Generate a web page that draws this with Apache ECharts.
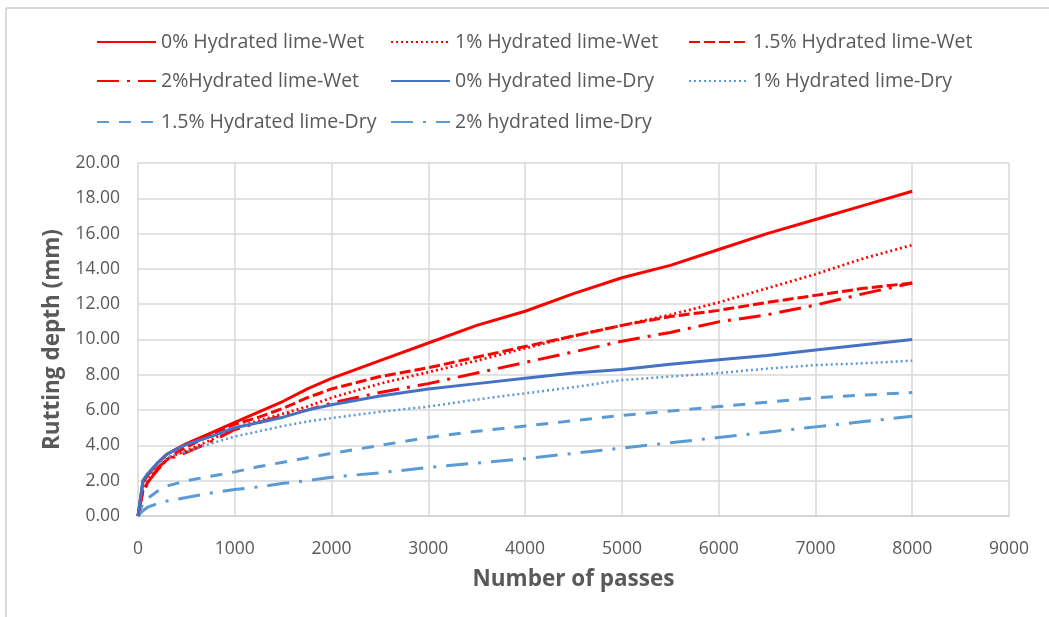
<!DOCTYPE html>
<html>
<head>
<meta charset="utf-8">
<script src="https://cdn.jsdelivr.net/npm/echarts@6/dist/echarts.min.js"></script>
<style>
html,body{margin:0;padding:0;background:#fff;}
#chart{width:1049px;height:617px;}
</style>
</head>
<body>
<div id="chart"></div>
<script>
// ---- data ----
const passes = [0, 50, 100, 200, 300, 400, 500, 750, 1000, 1250, 1500, 1750, 2000, 2500, 3000, 3500, 4000, 4500, 5000, 5500, 6000, 6500, 7000, 7500, 8000];

const seriesNames = [
  '0% Hydrated lime-Wet', '1% Hydrated lime-Wet', '1.5% Hydrated lime-Wet',
  '2%Hydrated lime-Wet', '0% Hydrated lime-Dry', '1% Hydrated lime-Dry',
  '1.5% Hydrated lime-Dry', '2% hydrated lime-Dry'
];

const wet0  = [0, 1.9, 2.3, 3.0, 3.5, 3.8, 4.1, 4.7, 5.3, 5.9, 6.5, 7.2, 7.8, 8.8, 9.8, 10.8, 11.6, 12.6, 13.5, 14.2, 15.1, 16.0, 16.8, 17.6, 18.4];
const wet1  = [0, 1.5, 2.0, 2.7, 3.2, 3.5, 3.7, 4.3, 5.0, 5.4, 5.8, 6.2, 6.7, 7.5, 8.15, 8.8, 9.5, 10.2, 10.8, 11.4, 12.1, 12.9, 13.7, 14.6, 15.35];
const wet15 = [0, 1.4, 1.9, 2.6, 3.2, 3.6, 3.9, 4.6, 5.2, 5.6, 6.1, 6.7, 7.2, 7.9, 8.4, 9.0, 9.6, 10.2, 10.8, 11.3, 11.65, 12.1, 12.5, 12.9, 13.2];
const wet2  = [0, 1.4, 1.8, 2.7, 3.2, 3.4, 3.6, 4.2, 4.9, 5.3, 5.7, 6.0, 6.4, 7.0, 7.5, 8.1, 8.7, 9.3, 9.9, 10.4, 11.0, 11.4, 11.95, 12.6, 13.2];
const dry0  = [0, 2.0, 2.4, 3.0, 3.5, 3.8, 4.05, 4.5, 5.0, 5.3, 5.6, 6.0, 6.3, 6.8, 7.2, 7.5, 7.8, 8.1, 8.3, 8.6, 8.85, 9.1, 9.4, 9.7, 10.0];
const dry1  = [0, 1.7, 2.2, 2.9, 3.3, 3.5, 3.65, 4.1, 4.5, 4.8, 5.1, 5.35, 5.55, 5.9, 6.2, 6.6, 6.95, 7.3, 7.7, 7.9, 8.1, 8.35, 8.55, 8.65, 8.8];
const dry15 = [0, 0.7, 1.0, 1.4, 1.7, 1.85, 2.0, 2.25, 2.5, 2.8, 3.05, 3.3, 3.55, 4.0, 4.45, 4.8, 5.1, 5.4, 5.7, 5.95, 6.2, 6.45, 6.7, 6.85, 7.0];
const dry2  = [0, 0.3, 0.5, 0.7, 0.85, 0.95, 1.05, 1.3, 1.5, 1.65, 1.85, 2.0, 2.2, 2.45, 2.75, 3.0, 3.25, 3.55, 3.85, 4.15, 4.45, 4.75, 5.05, 5.35, 5.65];

const xTicks = [0, 1000, 2000, 3000, 4000, 5000, 6000, 7000, 8000, 9000];
const yTicks = [0, 2, 4, 6, 8, 10, 12, 14, 16, 18, 20];

// ---- styles ----
const allValues = [wet0, wet1, wet15, wet2, dry0, dry1, dry15, dry2];
const styles = [
  {color: '#FF0000', type: 'solid', width: 3},
  {color: '#FF0000', type: [2, 3], width: 2.75},
  {color: '#FF0000', type: [11, 4], width: 3},
  {color: '#FF0000', type: [22, 8, 3, 8], width: 3},
  {color: '#4472C4', type: 'solid', width: 3},
  {color: '#5B9BD5', type: [2, 3], width: 2.5},
  {color: '#5B9BD5', type: [12, 10], width: 3},
  {color: '#5B9BD5', type: [22, 10, 3, 10], width: 3}
];
const legendPos = [
  [96, 30], [390, 30], [688, 30],
  [96, 69], [390, 69], [688, 69],
  [96, 110], [390, 110]
];

const FONT = '"Open Sans", "Noto Sans", sans-serif';
const TXT = '#595959';

const series = allValues.map((vals, i) => ({
  name: seriesNames[i],
  type: 'line',
  data: passes.map((p, j) => [p, vals[j]]),
  showSymbol: false,
  symbol: 'none',
  smooth: false,
  lineStyle: {color: styles[i].color, type: styles[i].type, width: styles[i].width},
  itemStyle: {color: styles[i].color},
  z: 10 - (i % 4)
}));

const legends = seriesNames.map((n, i) => ({
  data: [n],
  left: legendPos[i][0],
  top: legendPos[i][1],
  padding: 0,
  itemWidth: 59,
  itemHeight: 14,
  itemGap: 0,
  selectedMode: false,
  itemStyle: {opacity: 0},
  textStyle: {color: TXT, fontFamily: FONT, fontSize: 19.5, lineHeight: 24}
}));

const chart = echarts.init(document.getElementById('chart'), null, {renderer: 'canvas'});
chart.setOption({
  animation: false,
  backgroundColor: '#fff',
  legend: legends,
  grid: {left: 138, right: 40, top: 163, bottom: 101, containLabel: false},
  xAxis: {
    type: 'value',
    min: xTicks[0], max: xTicks[xTicks.length - 1], interval: xTicks[1] - xTicks[0],
    name: 'Number of passes',
    nameLocation: 'middle',
    nameGap: 52,
    nameTextStyle: {color: TXT, fontFamily: FONT, fontSize: 22.5, fontWeight: 'bold'},
    axisLine: {show: true, lineStyle: {color: '#D0D0D0', width: 1.5}},
    axisTick: {show: false},
    axisLabel: {color: TXT, fontFamily: FONT, fontSize: 17.5, margin: 24, formatter: v => String(v)},
    splitLine: {show: true, lineStyle: {color: '#D9D9D9', width: 1.5}}
  },
  yAxis: {
    type: 'value',
    min: yTicks[0], max: yTicks[yTicks.length - 1], interval: yTicks[1] - yTicks[0],
    name: 'Rutting depth (mm)',
    nameLocation: 'middle',
    nameGap: 74,
    nameTextStyle: {color: TXT, fontFamily: FONT, fontSize: 22.5, fontWeight: 'bold'},
    axisLine: {show: false},
    axisTick: {show: false},
    axisLabel: {color: TXT, fontFamily: FONT, fontSize: 17.5, margin: 18, formatter: v => v.toFixed(2)},
    splitLine: {show: true, lineStyle: {color: '#D9D9D9', width: 1.5}}
  },
  graphic: [
    {type: 'line', shape: {x1: 6, y1: 8, x2: 1049, y2: 8}, style: {stroke: '#D9D9D9', lineWidth: 2}, silent: true},
    {type: 'line', shape: {x1: 6, y1: 8, x2: 6, y2: 617}, style: {stroke: '#D9D9D9', lineWidth: 2}, silent: true}
  ],
  series: series
});
</script>
</body>
</html>
